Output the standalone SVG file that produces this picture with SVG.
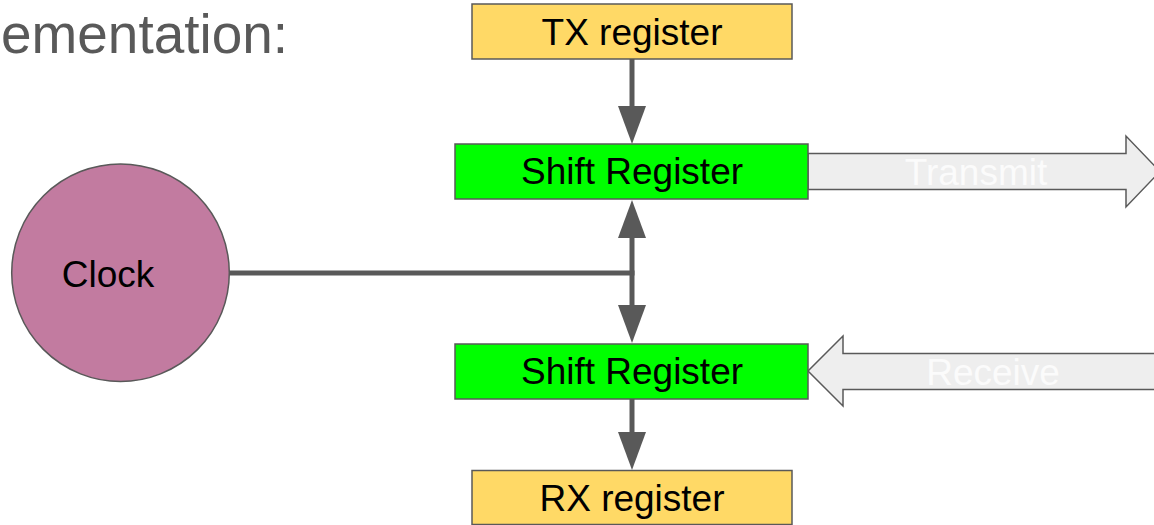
<svg xmlns="http://www.w3.org/2000/svg" width="1154" height="525" viewBox="0 0 1154 525">
  <style>
    text { font-family: "Liberation Sans", Arial, sans-serif; }
    .box { stroke: #595959; stroke-width: 1.5; }
    .reg { fill: #ffd966; }
    .shift { fill: #00ff00; }
    .label { font-size: 37px; fill: #000000; text-anchor: middle; }
    .wire { stroke: #595959; stroke-width: 5; fill: none; }
    .bus { fill: #eeeeee; stroke: #595959; stroke-width: 1.5; }
    .buslabel { font-size: 37px; fill: #fbfbfb; text-anchor: middle; }
  </style>
  <defs>
    <marker id="head" markerUnits="userSpaceOnUse" markerWidth="38" markerHeight="28" refX="0" refY="14" orient="auto-start-reverse" viewBox="0 0 38 28">
      <path d="M0,0 L38,14 L0,28 z" fill="#595959"/>
    </marker>
  </defs>

  <rect width="1154" height="525" fill="#ffffff"/>

  <!-- heading fragment -->
  <text x="1" y="53" font-size="56" fill="#595959" textLength="287" lengthAdjust="spacingAndGlyphs">ementation:</text>

  <!-- connectors -->
  <g id="connectors">
    <line class="wire" x1="632" y1="59" x2="632" y2="106" marker-end="url(#head)"/>
    <line class="wire" x1="229" y1="273" x2="634.5" y2="273"/>
    <line class="wire" x1="632" y1="238" x2="632" y2="305" marker-start="url(#head)" marker-end="url(#head)"/>
    <line class="wire" x1="632" y1="399" x2="632" y2="432" marker-end="url(#head)"/>
  </g>

  <!-- serial line arrows -->
  <g id="transmit">
    <polygon class="bus" points="808,153.5 1126,153.5 1126,136 1160,171.5 1126,207 1126,189.5 808,189.5"/>
    <text class="buslabel" x="976" y="185">Transmit</text>
  </g>
  <g id="receive">
    <polygon class="bus" points="1160,353.5 843,353.5 843,336 808,371 843,406 843,389.5 1160,389.5"/>
    <text class="buslabel" x="993" y="385">Receive</text>
  </g>

  <g id="tx-register">
    <rect class="box reg" x="472" y="4" width="320" height="55"/>
    <text class="label" x="632" y="45">TX register</text>
  </g>
  <g id="shift-register-tx">
    <rect class="box shift" x="455" y="144" width="353" height="55"/>
    <text class="label" x="632" y="184">Shift Register</text>
  </g>
  <g id="shift-register-rx">
    <rect class="box shift" x="455" y="344" width="353" height="55"/>
    <text class="label" x="632" y="384">Shift Register</text>
  </g>
  <g id="rx-register">
    <rect class="box reg" x="472" y="470.5" width="320" height="54"/>
    <text class="label" x="632" y="511">RX register</text>
  </g>
  <g id="clock">
    <circle cx="120.5" cy="272.7" r="108.8" fill="#c27ba0" stroke="#595959" stroke-width="1.5"/>
    <text class="label" x="108" y="286.5">Clock</text>
  </g>
</svg>
